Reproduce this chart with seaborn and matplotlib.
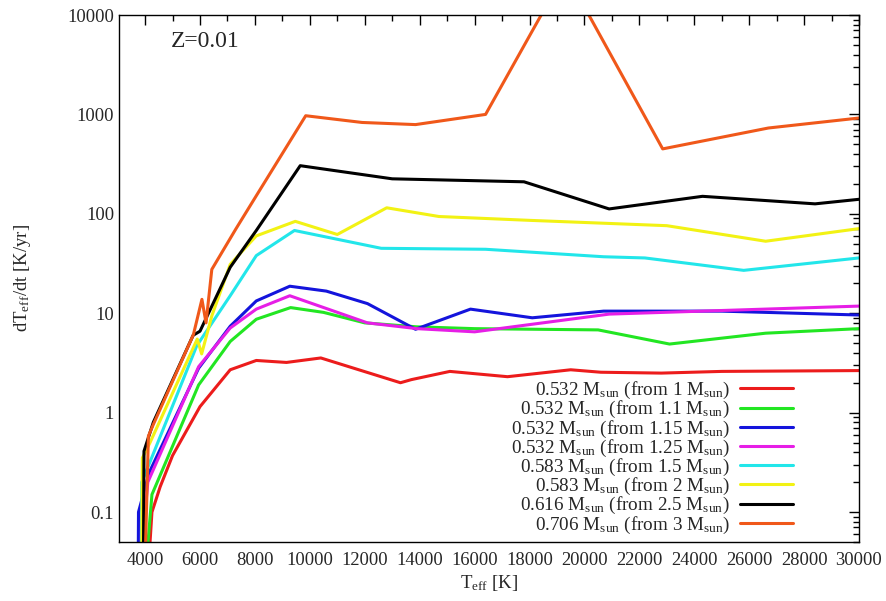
import numpy as np
import pandas as pd
import matplotlib
matplotlib.use("Agg")
import matplotlib.pyplot as plt
import matplotlib.ticker as mticker
from matplotlib.lines import Line2D
import seaborn as sns

# ---------------- data ----------------
labels = [
    r"0.532 M$_{\rm sun}$ (from 1 M$_{\rm sun}$)",
    r"0.532 M$_{\rm sun}$ (from 1.1 M$_{\rm sun}$)",
    r"0.532 M$_{\rm sun}$ (from 1.15 M$_{\rm sun}$)",
    r"0.532 M$_{\rm sun}$ (from 1.25 M$_{\rm sun}$)",
    r"0.583 M$_{\rm sun}$ (from 1.5 M$_{\rm sun}$)",
    r"0.583 M$_{\rm sun}$ (from 2 M$_{\rm sun}$)",
    r"0.616 M$_{\rm sun}$ (from 2.5 M$_{\rm sun}$)",
    r"0.706 M$_{\rm sun}$ (from 3 M$_{\rm sun}$)",
]
colors = ["#ec1c1c", "#22e622", "#1414dc", "#e61ee6",
          "#22e6ea", "#f2f214", "#000000", "#f0581a"]

t_red = [4130, 4250, 4550, 5000, 6000, 7100, 8050, 9150, 10400, 13300, 13700,
         15100, 17200, 19500, 20600, 22800, 25000, 30000]
v_red = [0.03, 0.1, 0.18, 0.37, 1.15, 2.7, 3.35, 3.2, 3.55, 2.0, 2.15,
         2.6, 2.3, 2.7, 2.55, 2.5, 2.6, 2.65]

t_green = [4040, 4250, 5950, 7100, 8050, 9300, 10500, 12000, 13900, 16000,
           20500, 23100, 26600, 30000]
v_green = [0.03, 0.15, 1.9, 5.2, 8.7, 11.4, 10.2, 8.0, 7.3, 7.0,
           6.8, 4.9, 6.3, 7.0]

t_blue = [3750, 3760, 4150, 5950, 7100, 8050, 9270, 10600, 12100, 13850,
          15850, 18100, 20700, 25000, 30000]
v_blue = [0.03, 0.1, 0.25, 2.8, 7.4, 13.3, 18.7, 16.7, 12.5, 6.9,
          11.0, 9.0, 10.5, 10.5, 9.6]

t_magenta = [3830, 4100, 5950, 7100, 8050, 9270, 12100, 13900, 16000, 20900, 30000]
v_magenta = [0.03, 0.2, 2.9, 7.1, 11.0, 15.0, 8.0, 7.0, 6.5, 9.8, 11.8]

t_cyan = [3870, 3880, 4180, 5880, 7100, 8050, 9440, 12600, 16400, 20700,
          22200, 25800, 30000]
v_cyan = [0.03, 0.2, 0.32, 4.7, 15, 38, 68, 45, 44, 37, 36, 27, 36]

t_yellow = [3880, 3900, 4180, 5900, 6060, 6430, 7100, 8050, 9470, 11000,
            12800, 14700, 18000, 23000, 26600, 30000]
v_yellow = [0.03, 0.35, 0.5, 5.5, 3.9, 9.4, 31, 60, 84, 62,
            115, 94, 86, 76, 53, 71]

t_black = [3940, 3960, 4300, 5750, 6000, 7100, 8050, 9650, 13000, 17800,
           20900, 24300, 28400, 30000]
v_black = [0.03, 0.41, 0.8, 6.0, 6.6, 29, 68, 305, 225, 210,
           112, 150, 126, 140]

t_orange = [4000, 4120, 4300, 5760, 6070, 6220, 6430, 7300, 8100, 9850,
            11900, 13850, 16400, 19300, 22850, 26700, 30000]
v_orange = [0.03, 0.58, 0.76, 6.1, 13.8, 8.0, 27.6, 70, 160, 970,
            830, 790, 1000, 27000, 450, 730, 920]

series_t = [t_red, t_green, t_blue, t_magenta, t_cyan, t_yellow, t_black, t_orange]
series_v = [v_red, v_green, v_blue, v_magenta, v_cyan, v_yellow, v_black, v_orange]

x_ticks = list(range(4000, 30001, 2000))
y_ticks = [0.1, 1, 10, 100, 1000, 10000]
y_ticklabels = ["0.1", "1", "10", "100", "1000", "10000"]

# ---------------- build table ----------------
frames = []
for lab, t, v in zip(labels, series_t, series_v):
    frames.append(pd.DataFrame({"Teff": t, "rate": v, "model": lab}))
df = pd.concat(frames, ignore_index=True)

# ---------------- style ----------------
sns.set_style("white")
plt.rcParams["font.family"] = ["Liberation Serif", "DejaVu Serif"]
plt.rcParams["mathtext.fontset"] = "custom"
plt.rcParams["mathtext.rm"] = "Liberation Serif"
plt.rcParams["mathtext.it"] = "Liberation Serif:italic"
plt.rcParams["mathtext.bf"] = "Liberation Serif:bold"

fig = plt.figure(figsize=(8.87, 6.01), dpi=100)
ax = fig.add_axes([119 / 887, 1 - 542 / 601, (859 - 119) / 887, (542 - 15) / 601])

sns.lineplot(data=df, x="Teff", y="rate", hue="model", hue_order=labels,
             palette=colors, sort=False, estimator=None, linewidth=2.2,
             legend=False, ax=ax)

ax.set_yscale("log")
ax.set_xlim(3050, 30000)
ax.set_ylim(0.05, 10000)

ax.set_xticks(x_ticks)
ax.set_xticklabels([str(x) for x in x_ticks])
ax.xaxis.set_minor_locator(mticker.MultipleLocator(1000))
ax.set_yticks(y_ticks)
ax.set_yticklabels(y_ticklabels)
ax.yaxis.set_minor_locator(mticker.LogLocator(base=10, subs=np.arange(2, 10), numticks=20))
ax.yaxis.set_minor_formatter(mticker.NullFormatter())

ax.tick_params(which="both", direction="in", top=True, right=True, labelsize=13.3,
               color="black", width=1)
ax.tick_params(which="major", length=7)
ax.tick_params(which="minor", length=4)
ax.tick_params(axis="x", pad=7)
for s in ax.spines.values():
    s.set_color("black")
    s.set_linewidth(1.0)

ax.set_xlabel(r"T$_{\rm eff}$ [K]", fontsize=13.5, labelpad=3)
ax.set_ylabel(r"dT$_{\rm eff}$/dt [K/yr]", fontsize=13.5)
ax.yaxis.set_label_coords(-(119 - 33) / 740, 0.5)

ax.text(0.117, 0.95, "Z=0.01", transform=ax.transAxes, fontsize=17,
        ha="center", va="center")

handles = [Line2D([0], [0], color=c, lw=2.2) for c in colors]
leg = ax.legend(handles, labels, loc="lower right", bbox_to_anchor=(0.911, 0.012),
                markerfirst=False, frameon=False, fontsize=13.8, handlelength=2.75,
                handletextpad=0.55, labelspacing=-0.1, borderaxespad=0.0,
                borderpad=0.0)

fig.savefig("out.png", dpi=100)
